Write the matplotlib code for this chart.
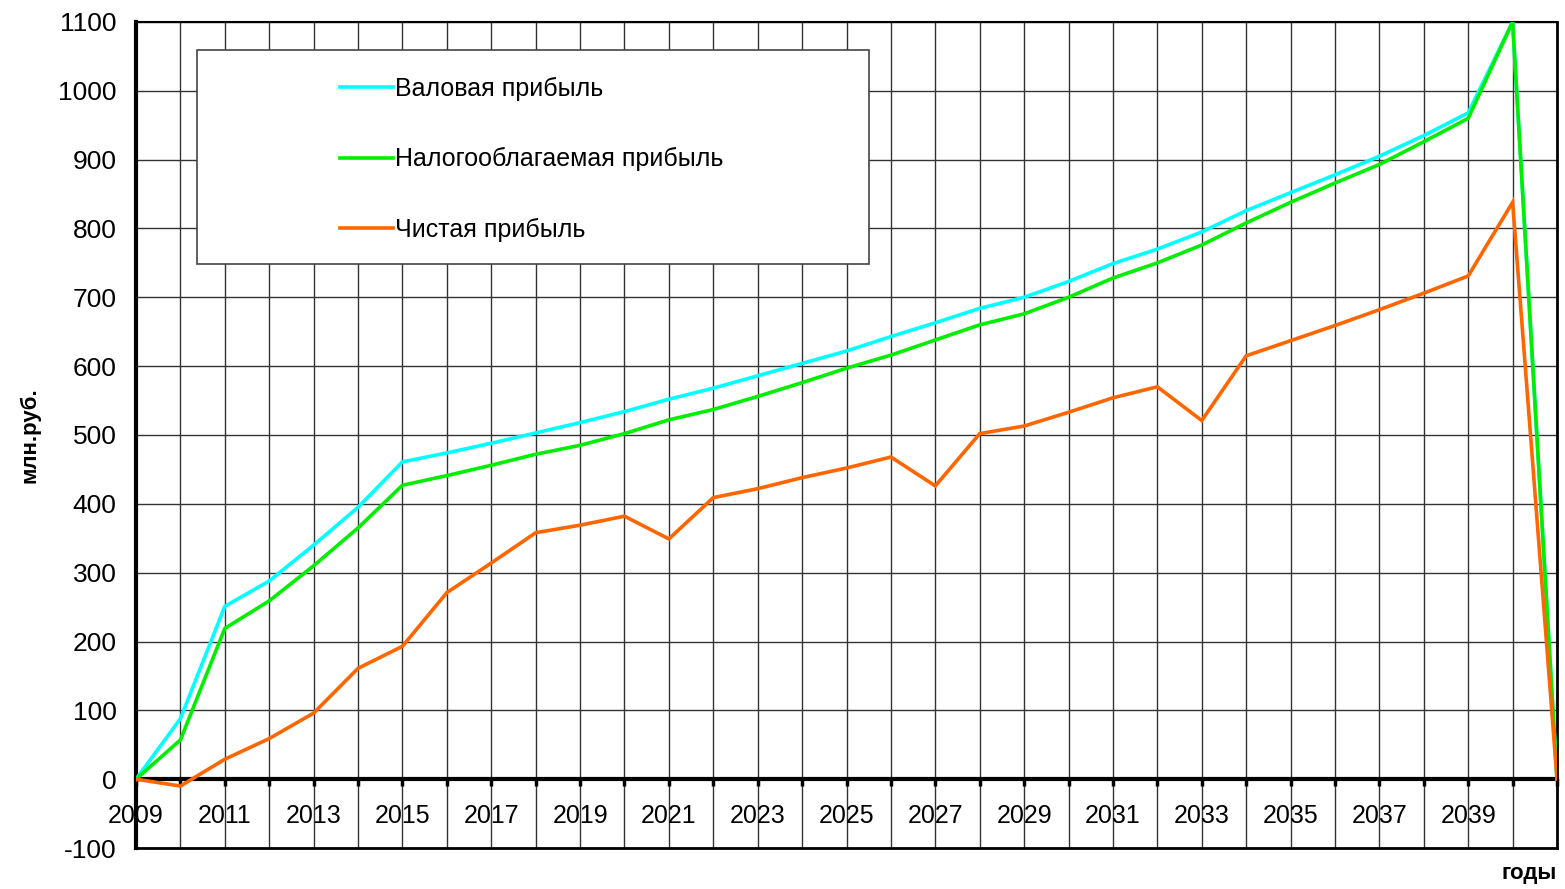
import numpy as np
import matplotlib.pyplot as plt
from matplotlib.patches import Rectangle

plt.rcParams['font.family'] = ['Liberation Sans', 'DejaVu Sans']
plt.rcParams['axes.unicode_minus'] = False

years = list(range(2009, 2042))
gross = [0, 88, 251, 288, 340, 395, 461, 474, 488, 503, 518, 534, 552, 568, 586, 604,
         622, 643, 663, 684, 700, 723, 749, 770, 795, 826, 852, 878, 905, 935, 968, 1100, 0]
taxable = [0, 57, 219, 259, 310, 365, 427, 441, 456, 472, 485, 502, 522, 537, 556, 576,
           597, 616, 638, 660, 676, 700, 728, 750, 776, 808, 838, 866, 893, 926, 960, 1100, 0]
net = [0, -10, 29, 59, 96, 161, 193, 271, 314, 358, 369, 382, 349, 409, 422, 438,
       452, 468, 426, 502, 513, 533, 554, 570, 521, 615, 637, 659, 682, 706, 731, 838, 0]
labels = ['Валовая прибыль', 'Налогооблагаемая прибыль', 'Чистая прибыль']
colors = ['#00FFFF', '#00EE00', '#FF6600']

fig = plt.figure(figsize=(15.65, 8.89), dpi=100)
ax = fig.add_axes([0.0869, 0.0461, 0.9080, 0.9292])

for vals, lab, c in zip([gross, taxable, net], labels, colors):
    ax.plot(years, vals, color=c, lw=2.6, label=lab, zorder=4, solid_joinstyle='miter')

ax.set_xlim(2009, 2041)
ax.set_ylim(-100, 1100)
ax.set_yticks(np.arange(-100, 1101, 100))
ax.set_xticks(years)
ax.set_xticklabels([str(y) if (y - 2009) % 2 == 0 and y < 2041 else '' for y in years])
ax.grid(True, color='#333333', lw=1.0)
ax.set_axisbelow(True)

# category axis crosses at zero
ax.spines['bottom'].set_position(('data', 0))
ax.spines['bottom'].set_linewidth(3)
ax.spines['left'].set_linewidth(3)
ax.spines['right'].set_linewidth(2)
ax.spines['top'].set_linewidth(1.5)
ax.axhline(-100, color='black', lw=2, zorder=5, clip_on=False)
ax.tick_params(axis='x', direction='out', length=5, width=2.5, pad=13, labelsize=18)
ax.tick_params(axis='y', length=0, pad=14, labelsize=19)

ax.text(-0.0746, 0.5, 'млн.руб.', transform=ax.transAxes, rotation=90,
        ha='center', va='center', fontsize=16, fontweight='bold')
fig.text(0.995, 0.006, 'годы', ha='right', va='bottom', fontsize=16, fontweight='bold')

# legend box
ax.add_patch(Rectangle((0.0429, 0.707), 0.4729, 0.259, transform=ax.transAxes,
                       facecolor='white', edgecolor='#444444', lw=1.2, zorder=3))
ax.legend(loc='upper left', bbox_to_anchor=(0.1436, 0.9334), frameon=False, fontsize=18,
          borderpad=0, borderaxespad=0, handlelength=2.1, handletextpad=0.08,
          labelspacing=1.85)

fig.savefig('out.png', dpi=100)
